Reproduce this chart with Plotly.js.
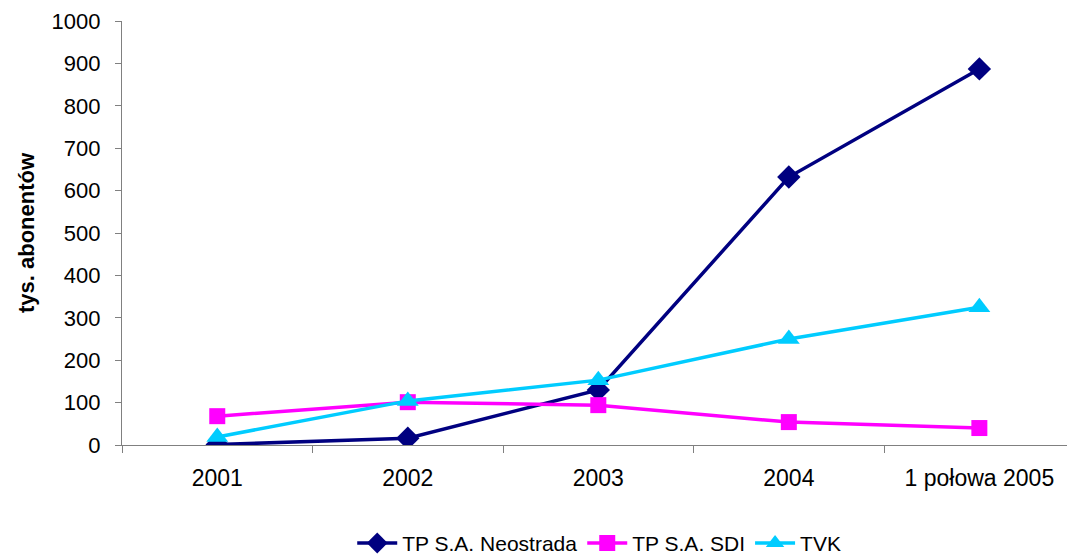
<!DOCTYPE html>
<html>
<head>
<meta charset="utf-8">
<script src="https://cdn.plot.ly/plotly-3.0.1.min.js"></script>
<style>html,body{margin:0;padding:0;background:#fff}#chart{width:1067px;height:559px}</style>
</head>
<body>
<div id="chart"></div>
<script>
var categories = ["2001", "2002", "2003", "2004", "1 połowa 2005"];
var neostrada = [1, 16, 130, 632, 887];
var sdi = [68, 101, 94, 54, 40];
var tvk = [19, 104, 153, 250, 325];
var yTicks = [0, 100, 200, 300, 400, 500, 600, 700, 800, 900, 1000];

var traces = [
  {x: categories, y: neostrada, name: "TP S.A. Neostrada", type: "scatter", mode: "lines+markers",
   line: {color: "#000080", width: 3.5}, marker: {symbol: "diamond", size: 18, color: "#000080"}},
  {x: categories, y: sdi, name: "TP S.A. SDI", type: "scatter", mode: "lines+markers",
   line: {color: "#FF00FF", width: 3.5}, marker: {symbol: "square", size: 16, color: "#FF00FF"}},
  {x: categories, y: tvk, name: "TVK", type: "scatter", mode: "lines+markers",
   line: {color: "#00CCFF", width: 3.5}, marker: {symbol: "triangle-up", size: 19, color: "#00CCFF"}}
];

var layout = {
  width: 1067, height: 559,
  margin: {l: 122, r: 0, t: 21, b: 114, autoexpand: false},
  paper_bgcolor: "#fff", plot_bgcolor: "#fff",
  font: {family: "Liberation Sans, Arial, sans-serif", size: 21, color: "#000"},
  showlegend: true,
  legend: {orientation: "h", x: 0.505, xanchor: "center", y: -0.232, yanchor: "middle",
           font: {size: 21}, itemwidth: 40, tracegroupgap: 0},
  xaxis: {type: "category", range: [-0.5, 4.46], tickson: "boundaries", ticks: "outside", ticklen: 7,
          tickcolor: "#808080", showline: true, linecolor: "#808080", linewidth: 1.2, showgrid: false,
          zeroline: false, ticklabelstandoff: 12, tickfont: {size: 23}, automargin: false},
  yaxis: {range: [0, 1000], tickvals: yTicks, ticks: "outside", ticklen: 6, tickcolor: "#808080",
          showline: true, linecolor: "#808080", linewidth: 1.2, showgrid: false, zeroline: false,
          ticklabelstandoff: 10, tickfont: {size: 22}, automargin: false,
          title: {text: "tys. abonentów", font: {size: 22, weight: "bold"}, standoff: 10}}
};

Plotly.newPlot("chart", traces, layout, {displayModeBar: false, staticPlot: true});
</script>
</body>
</html>
